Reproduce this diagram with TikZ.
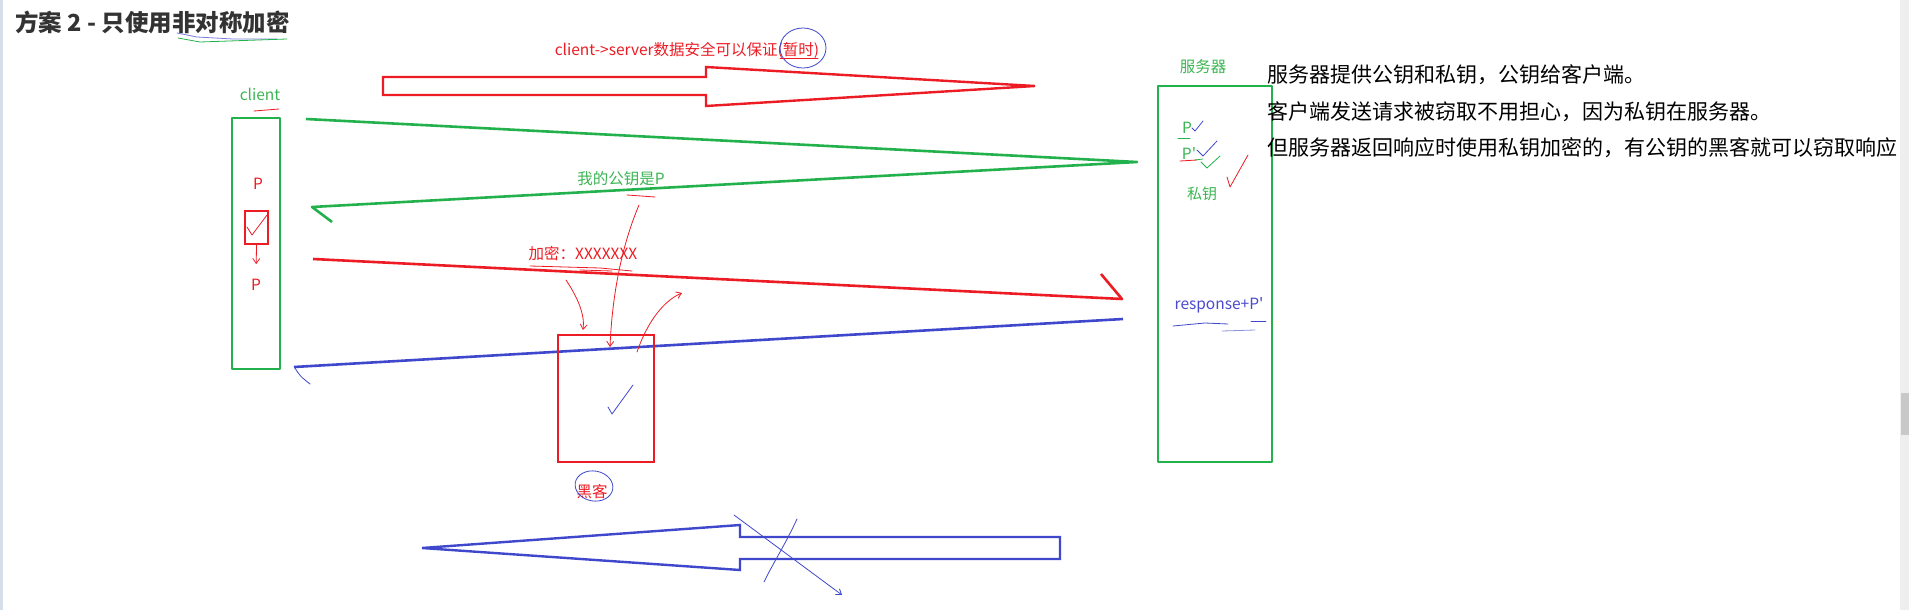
\documentclass[tikz,border=0pt]{standalone}
\usepackage{fontspec}
\setmainfont{Noto Sans CJK SC}
\usepackage{xcolor}
\usepackage{tikz}
\usetikzlibrary{arrows.meta}
\definecolor{penGreen}{HTML}{22B14C}
\definecolor{penRed}{HTML}{ED1C24}
\definecolor{penBlue}{HTML}{3F48CC}
\definecolor{txtGreen}{HTML}{3DB554}
\definecolor{txtBlue}{HTML}{4A4AD0}
\definecolor{titleText}{HTML}{333333}
\definecolor{sideBar}{HTML}{D6DEEA}
\definecolor{scrollTrack}{HTML}{EEEEEE}
\definecolor{scrollThumb}{HTML}{C8C8C8}
\newcommand{\pxsize}[1]{\fontsize{#1}{#1}\selectfont}

\begin{document}
\begin{tikzpicture}[x=1pt, y=-1pt,
  heavy/.style={line width=2.6pt, line join=round},
  pen/.style={line width=0.8pt, line cap=round, line join=round},
  barb/.style={-{Straight Barb[length=5pt, width=7pt]}},
  lbl/.style={inner sep=0pt, font=\pxsize{15.5}}]
  \useasboundingbox (0,0) rectangle (1909,610);
  \fill[white] (0,0) rectangle (1909,610);
  \fill[sideBar] (0,0) rectangle (3,610);
  \fill[scrollTrack] (1900,0) rectangle (1909,610);
  \fill[scrollThumb] (1901,393) rectangle (1909,435);

  % title
  \node[anchor=west, inner sep=0pt, font=\pxsize{23.5}\bfseries, color=titleText] (title) at (15,22) {方案 2 - 只使用非对称加密};
  \draw[pen, color=penBlue!70] (177,33) -- (197,37) -- (233,39) -- (277,39);
  \draw[pen, color=penGreen] (178,38) -- (200,42) -- (287,39);

  % client and server
  \node[draw=penGreen, heavy, minimum width=48, minimum height=251] (client) at (256,243.5) {};
  \node[lbl, color=txtGreen] (clientLbl) at (260,94) {client};
  \draw[pen, color=penRed] (254,111) -- (279,109);
  \node[lbl, color=penRed] (pTop) at (258,184) {P};
  \node[draw=penRed, line width=2pt, minimum width=23, minimum height=33] (keyBox) at (256.5,227.5) {};
  \draw[pen, color=penRed] (247,227) -- (252,235) -- (267,215);
  \node[lbl, color=penRed] (pBot) at (256,285) {P};
  \draw[pen, barb, color=penRed, shorten >=15pt] (keyBox.south) -- (pBot.north);

  \node[draw=penGreen, heavy, minimum width=114, minimum height=376] (server) at (1215,274) {};
  \node[lbl, color=txtGreen] (serverLbl) at (1203,67) {服务器};
  \node[lbl, color=txtGreen] (pubKey) at (1187,128) {P};
  \node[lbl, color=txtGreen] (privKey) at (1189,154) {P\textquotesingle};
  \node[lbl, font=\pxsize{15}, color=txtGreen] (privLbl) at (1202,194) {私钥};
  \draw[pen, color=penGreen] (1178,138) -- (1190,138);
  \draw[pen, color=penBlue] (1192,128) -- (1195,131) -- (1203,121);
  \draw[pen, color=penBlue] (1197,150) -- (1203,156) -- (1217,141);
  \draw[pen, color=penGreen] (1201,162) -- (1207,168) -- (1220,156);
  \draw[pen, color=penRed] (1180,161) -- (1197,160);
  \draw[pen, color=penGreen] (1195,160) -- (1203,159);
  \draw[pen, color=penRed] (1227,177) -- (1230,187) -- (1248,155);
  \node[lbl, color=txtBlue] (resp) at (1219,305) {response+P\textquotesingle};
  \draw[pen, color=penBlue] (1173,326) -- (1205,323) -- (1228,324);
  \draw[pen, color=penBlue!60] (1222,331) -- (1255,330);
  \draw[pen, color=penBlue] (1251,321) -- (1266,321);

  % notes
  \node[anchor=west, inner sep=0pt, font=\pxsize{21}] (note1) at (1267,75) {服务器提供公钥和私钥，公钥给客户端。};
  \node[anchor=west, inner sep=0pt, font=\pxsize{21}] (note2) at (1267,112) {客户端发送请求被窃取不用担心，因为私钥在服务器。};
  \node[anchor=west, inner sep=0pt, font=\pxsize{21}] (note3) at (1267,148) {但服务器返回响应时使用私钥加密的，有公钥的黑客就可以窃取响应};

  % top arrow
  \node[lbl, color=penRed] (safeLbl) at (687,50) {client->server数据安全可以保证(暂时)};
  \draw[pen, color=penBlue] (803,48) ellipse (23 and 20);
  \draw[pen, color=penRed] (780,58) -- (818,58);
  \draw[line width=2.4pt, color=penRed, line join=miter]
    (383,77) -- (706,77) -- (706,67) -- (1035,86) -- (706,106) -- (706,95) -- (383,95) -- cycle;

  % messages
  \coordinate (gFrom) at (306,119);
  \coordinate (gTurn) at (1137,162);
  \coordinate (gTo) at (312,207);
  \draw[heavy, color=penGreen] (gFrom) -- (gTurn) -- (gTo) -- (332,222);
  \node[lbl, color=txtGreen] (pubMsg) at (621,179) {我的公钥是P};
  \draw[pen, color=penRed] (627,195) -- (655,197);

  \coordinate (rFrom) at (313,259);
  \coordinate (rTo) at (1122,299);
  \draw[heavy, color=penRed] (rFrom) -- (rTo) -- (1101,274);
  \node[lbl, color=penRed] (encMsg) at (583,254) {加密：XXXXXXX};
  \draw[pen, color=penRed] (530,266) -- (600,268) -- (632,271);
  \draw[pen, color=penRed] (580,270) -- (612,271);

  \coordinate (bFrom) at (1123,319);
  \coordinate (bTo) at (294,367);
  \draw[heavy, color=penBlue] (bFrom) -- (bTo);
  \draw[pen, color=penBlue] (295,368) .. controls (300,376) .. (310,384);

  % hacker
  \node[draw=penRed, line width=2.4pt, minimum width=96, minimum height=127] (hacker) at (606,398.5) {};
  \draw[pen, color=penBlue] (608,407) -- (612,414) -- (633,385);
  \node[lbl, color=penRed] (hackerLbl) at (592,492) {黑客};
  \draw[pen, color=penBlue] (594,486) ellipse [x radius=19, y radius=15, rotate=-10];
  \draw[pen, barb, color=penRed] (566,280) .. controls (578,298) and (585,315) .. (583,330);
  \draw[pen, barb, color=penRed] (639,205) .. controls (620,250) and (612,300) .. (610,347);
  \draw[pen, barb, color=penRed] (637,352) .. controls (648,320) and (665,300) .. (682,293);

  % bottom arrow
  \draw[line width=2.4pt, color=penBlue, line join=miter]
    (1060,537) -- (740,537) -- (740,525) -- (422,548) -- (740,570) -- (740,559) -- (1060,559) -- cycle;
  \draw[pen, barb, color=penBlue] (734,515) -- (842,595);
  \draw[pen, color=penBlue] (797,519) .. controls (785,545) and (772,565) .. (764,582);
\end{tikzpicture}
\end{document}
